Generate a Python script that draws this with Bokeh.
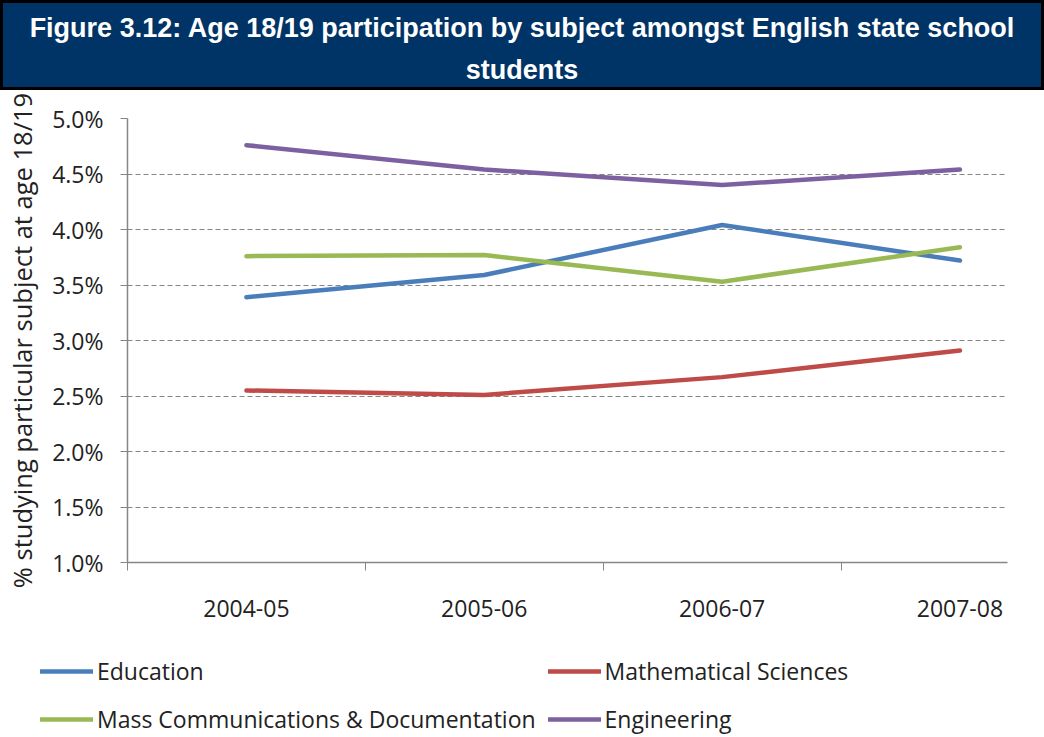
from bokeh.plotting import figure
from bokeh.models import (Div, FixedTicker, Legend, LegendItem, Range1d)
from bokeh.embed import file_html
from bokeh.resources import INLINE

# ---- data ----
years = ["2004-05", "2005-06", "2006-07", "2007-08"]
education = [3.39, 3.59, 4.04, 3.72]
mathematical_sciences = [2.55, 2.51, 2.67, 2.91]
mass_communications = [3.76, 3.77, 3.53, 3.84]
engineering = [4.76, 4.54, 4.40, 4.54]
y_ticks = [1.0, 1.5, 2.0, 2.5, 3.0, 3.5, 4.0, 4.5, 5.0]
y_tick_labels = ["1.0%", "1.5%", "2.0%", "2.5%", "3.0%", "3.5%", "4.0%", "4.5%", "5.0%"]

title_text = "Figure 3.12: Age 18/19 participation by subject amongst English state school students"
y_label = "% studying particular subject at age 18/19"

series = [
    ("Education", education, "#4A7EBB"),
    ("Mathematical Sciences", mathematical_sciences, "#BE4B48"),
    ("Mass Communications & Documentation", mass_communications, "#98B954"),
    ("Engineering", engineering, "#7D60A0"),
]

FONT = "Open Sans"
TXT = "#222222"
AX = "#868686"

banner = Div(
    text=('<div style="box-sizing:border-box;width:1044px;height:90px;'
          'background:#003366;border:3px solid #000;color:#fff;'
          'font-family:\'Liberation Sans\',Arial,sans-serif;font-weight:bold;'
          'font-size:27px;line-height:42px;text-align:center;padding:4px 18px 0 18px;">'
          + title_text + '</div>'),
    width=1044, height=90, margin=(0, 0, 0, 0),
)

xs = list(range(len(years)))

p = figure(width=1044, height=534, output_backend="svg", toolbar_location=None,
           x_range=Range1d(-0.5, 3.2), y_range=Range1d(1.0, 5.0),
           min_border_left=127, min_border_right=37, min_border_top=28,
           min_border_bottom=62)
p.outline_line_color = None

for name, vals, color in series:
    p.line(xs, vals, line_color=color, line_width=4.5,
           line_join="round", line_cap="round")

# x axis
p.xaxis.ticker = FixedTicker(ticks=xs, minor_ticks=[-0.5, 0.5, 1.5, 2.5])
p.xaxis.major_label_overrides = {i: y for i, y in enumerate(years)}
p.xaxis.major_tick_out = 0
p.xaxis.major_tick_in = 0
p.xaxis.minor_tick_out = 8
p.xaxis.minor_tick_in = 0
p.xaxis.minor_tick_line_color = AX
p.xaxis.axis_line_color = AX
p.xaxis.axis_line_width = 1.5
p.xaxis.major_label_standoff = 29
p.xaxis.major_label_text_font = FONT
p.xaxis.major_label_text_font_size = "23px"
p.xaxis.major_label_text_color = TXT
p.xgrid.grid_line_color = None

# y axis
p.yaxis.ticker = FixedTicker(ticks=y_ticks, minor_ticks=[])
p.yaxis.major_label_overrides = {t: l for t, l in zip(y_ticks, y_tick_labels)}
p.yaxis.major_tick_out = 7
p.yaxis.major_tick_in = 0
p.yaxis.major_tick_line_color = AX
p.yaxis.axis_line_color = AX
p.yaxis.axis_line_width = 1.5
p.yaxis.major_label_standoff = 17
p.yaxis.major_label_text_font = FONT
p.yaxis.major_label_text_font_size = "23px"
p.yaxis.major_label_text_color = TXT
p.yaxis.axis_label = y_label
p.yaxis.axis_label_text_font = FONT
p.yaxis.axis_label_text_font_style = "normal"
p.yaxis.axis_label_text_font_size = "25.5px"
p.yaxis.axis_label_text_color = TXT
p.yaxis.axis_label_standoff = 10
p.ygrid.ticker = FixedTicker(ticks=y_ticks)
p.ygrid.grid_line_color = AX
p.ygrid.grid_line_dash = "5 3"
p.ygrid.grid_line_width = 1.2

# legend in its own strip below the chart (series drawn out of view, used as legend keys)
lg = figure(width=1044, height=113, output_backend="svg", toolbar_location=None,
            x_range=Range1d(100, 101), y_range=Range1d(100, 101),
            x_axis_location=None, y_axis_location=None,
            min_border_left=0, min_border_right=0, min_border_top=0,
            min_border_bottom=0)
lg.grid.visible = False
lg.outline_line_color = None

items = []
for name, vals, color in series:
    r = lg.line(xs, vals, line_color=color, line_width=4.5, line_cap="round")
    items.append(LegendItem(label=name, renderers=[r]))

legend = Legend(items=items, location=(40, 0), orientation="horizontal", ncols=2,
                glyph_width=53, glyph_height=36, label_height=36,
                label_standoff=4, spacing=12, padding=0, margin=0,
                label_text_font=FONT, label_text_font_size="23px",
                label_text_color=TXT, border_line_color=None,
                background_fill_alpha=0)
lg.add_layout(legend, "center")

# three separate roots stacked on the page (no cross-plot frame alignment)
open("out.html", "w").write(file_html([banner, p, lg], INLINE))
